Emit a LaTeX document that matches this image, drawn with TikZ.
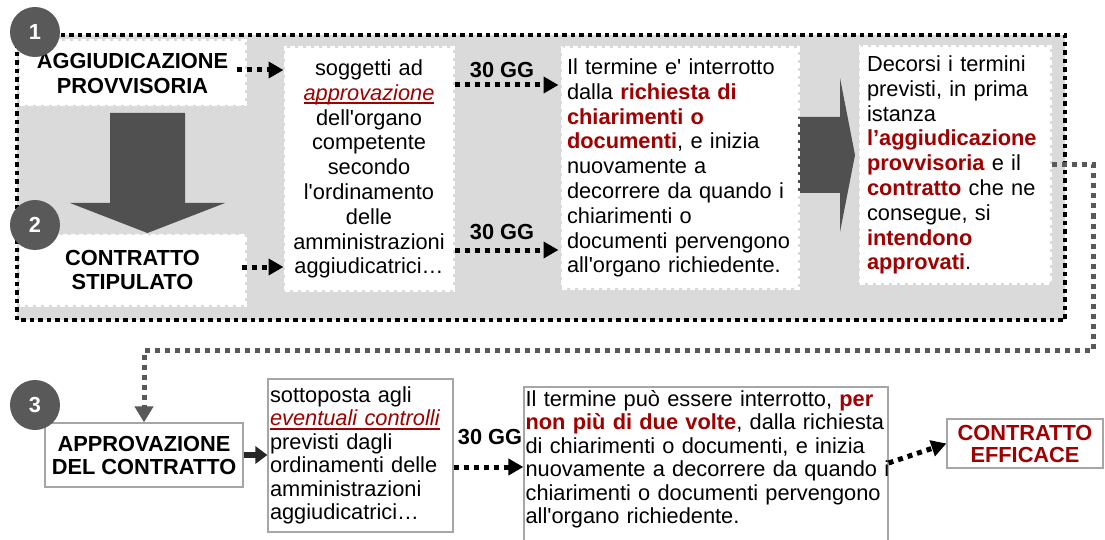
\documentclass[tikz,border=0pt]{standalone}
\usepackage{fontspec}
\newfontfamily\af{Liberation Sans}
\usetikzlibrary{arrows.meta}
\definecolor{dred}{HTML}{A00000}
\definecolor{bggray}{HTML}{DADADA}
\definecolor{dgray}{HTML}{595959}
\definecolor{agray}{HTML}{505050}
\definecolor{bgray}{HTML}{A6A6A6}
\newcommand\redb[1]{\textcolor{dred}{\bfseries #1}}
\newcommand\ulred[1]{\leavevmode{\color{dred}\setbox0\hbox{\itshape #1}\rlap{\rule[-4pt]{\wd0}{2pt}}\box0}}
\tikzset{
  stampbox/.style={fill=white, draw=white, line width=3pt, dash pattern=on 5pt off 3pt, inner sep=0pt},
  plainbox/.style={fill=white, draw=bgray, line width=1.2pt, inner sep=0pt},
  numcirc/.style={circle, fill=dgray, minimum size=50pt, inner sep=0pt, text=white, font=\af\fontsize{21.8}{24}\selectfont\bfseries},
  dotarrow/.style={draw=black, line width=5pt, dash pattern=on 5pt off 5pt, -{Triangle[length=15pt,width=16pt]}},
  grayarrow/.style={draw=dgray, line width=5pt, dash pattern=on 5pt off 5pt, -{Triangle[length=16pt,width=18pt]}},
  solidarrow/.style={draw=black!85, line width=6pt, -{Triangle[length=12pt,width=17pt]}},
  lbl/.style={font=\af\fontsize{21.8}{24}\selectfont\bfseries, inner sep=0pt},
  lowtext/.style={font=\af\fontsize{21.8}{23.5}\selectfont},
}
\begin{document}
\begin{tikzpicture}[x=1pt,y=-1pt, every node/.style={font=\af\fontsize{21.8}{24.8}\selectfont}]
\useasboundingbox (0,0) rectangle (1105,540);
\fill[white] (0,0) rectangle (1105,540);
% big frame
\draw[fill=bggray, draw=black, line width=4.5pt, dash pattern=on 4.5pt off 4pt] (17,35) rectangle (1065,320);
% right big arrow (behind boxes)
\fill[agray] (795,117) -- (840,117) -- (840,78) -- (855,155) -- (840,232) -- (840,193) -- (795,193) -- cycle;
% boxes in frame
\node[stampbox, minimum width=225pt, minimum height=64pt, align=center, font=\af\fontsize{21.8}{25}\selectfont\bfseries] (a1) at (132.5,73) {AGGIUDICAZIONE\\PROVVISORIA};
\node[stampbox, minimum width=225pt, minimum height=70pt, align=center, font=\af\fontsize{21.8}{24.5}\selectfont\bfseries] (cs) at (132.5,270) {CONTRATTO\\STIPULATO};
\node[stampbox, minimum width=168pt, minimum height=242pt, text width=166pt, align=center] (b2) at (369,169) {soggetti ad\\ \ulred{approvazione}\\ dell'organo\\ competente\\ secondo\\ l'ordinamento\\ delle\\ amministrazioni\\ aggiudicatrici…};
\node[stampbox, minimum width=236pt, minimum height=240pt, text width=226pt, align=left] (b3) at (680,168) {Il termine e' interrotto\\ dalla \redb{richiesta di}\\ \redb{chiarimenti o}\\ \redb{documenti}, e inizia\\ nuovamente a\\ decorrere da quando i\\ chiarimenti o\\ documenti pervengono\\ all'organo richiedente.};
\node[stampbox, minimum width=190pt, minimum height=236pt, text width=176pt, align=left] (b4) at (955,165) {Decorsi i termini\\ previsti, in prima\\ istanza\\ \redb{l’aggiudicazione}\\ \redb{provvisoria} e il\\ \redb{contratto} che ne\\ consegue, si\\ \redb{intendono}\\ \redb{approvati}.};
% down arrow
\fill[agray] (110,113) -- (185,113) -- (185,203) -- (225,203) -- (147.5,233) -- (70,203) -- (110,203) -- cycle;
% number circles
\node[numcirc] (n1) at (35,32) {1};
\node[numcirc] (n2) at (35,225) {2};
% connectors in frame
\coordinate (a1o) at ([xshift=-10pt,yshift=3pt]a1.east);
\draw[dotarrow] (a1o) -- (a1o -| b2.west);
\coordinate (cso) at ([xshift=-5pt,yshift=3pt]cs.east);
\draw[dotarrow] (cso) -- (cso -| b2.west);
\coordinate (g1) at ([yshift=84pt]b2.east);
\draw[dotarrow] (g1) -- ([xshift=-2pt]g1 -| b3.west);
\coordinate (g2) at ([yshift=-81pt]b2.east);
\draw[dotarrow] (g2) -- ([xshift=-2pt]g2 -| b3.west);
\node[lbl] (l1) at (502,70) {30 GG};
\node[lbl] (l2) at (502,232) {30 GG};
% lower row
\node[plainbox, minimum width=198pt, minimum height=64pt, align=center, font=\af\fontsize{21.8}{23}\selectfont\bfseries] (appr) at (144,455) {APPROVAZIONE\\DEL CONTRATTO};
\node[numcirc] (n3) at (35,405) {3};
\node[plainbox, lowtext, minimum width=185pt, minimum height=153pt, text width=181pt, align=left] (sott) at (360.5,455.5) {sottoposta agli\\ \ulred{eventuali controlli}\\ previsti dagli\\ ordinamenti delle\\ amministrazioni\\ aggiudicatrici…};
\node[plainbox, minimum width=364pt, minimum height=158pt] (jb) at (706,466) {};
\node[lowtext, anchor=north west, inner sep=0pt, text width=360pt, align=left] (jt) at ([xshift=2pt,yshift=-3.5pt]jb.north west) {%
\makebox[360pt][s]{Il termine può essere interrotto, \redb{per}}\\
\makebox[360pt][s]{\redb{non più di due volte}, dalla richiesta}\\
\makebox[360pt][s]{di chiarimenti o documenti, e inizia}\\
\makebox[360pt][s]{nuovamente a decorrere da quando i}\\
\makebox[360pt][s]{chiarimenti o documenti pervengono}\\
all'organo richiedente.};
\node[plainbox, minimum width=156pt, minimum height=49pt, align=center, text=dred, font=\af\fontsize{21.8}{22}\selectfont\bfseries] (eff) at (1025,443.5) {CONTRATTO\\EFFICACE};
% lower connectors
\coordinate (gturn) at (1093,350);
\draw[grayarrow] (b4.east) -| (gturn) -| (appr.north);
\draw[solidarrow] (appr.east) -- (appr.east -| sott.west);
\coordinate (g3) at ([yshift=-11.5pt]sott.east);
\draw[dotarrow] (g3) -- (g3 -| jb.west);
\node[lbl] (l3) at (490,437) {30 GG};
\coordinate (jo) at ([yshift=3pt]jb.east);
\draw[dotarrow] (jo) -- (eff.west);
\end{tikzpicture}
\end{document}
